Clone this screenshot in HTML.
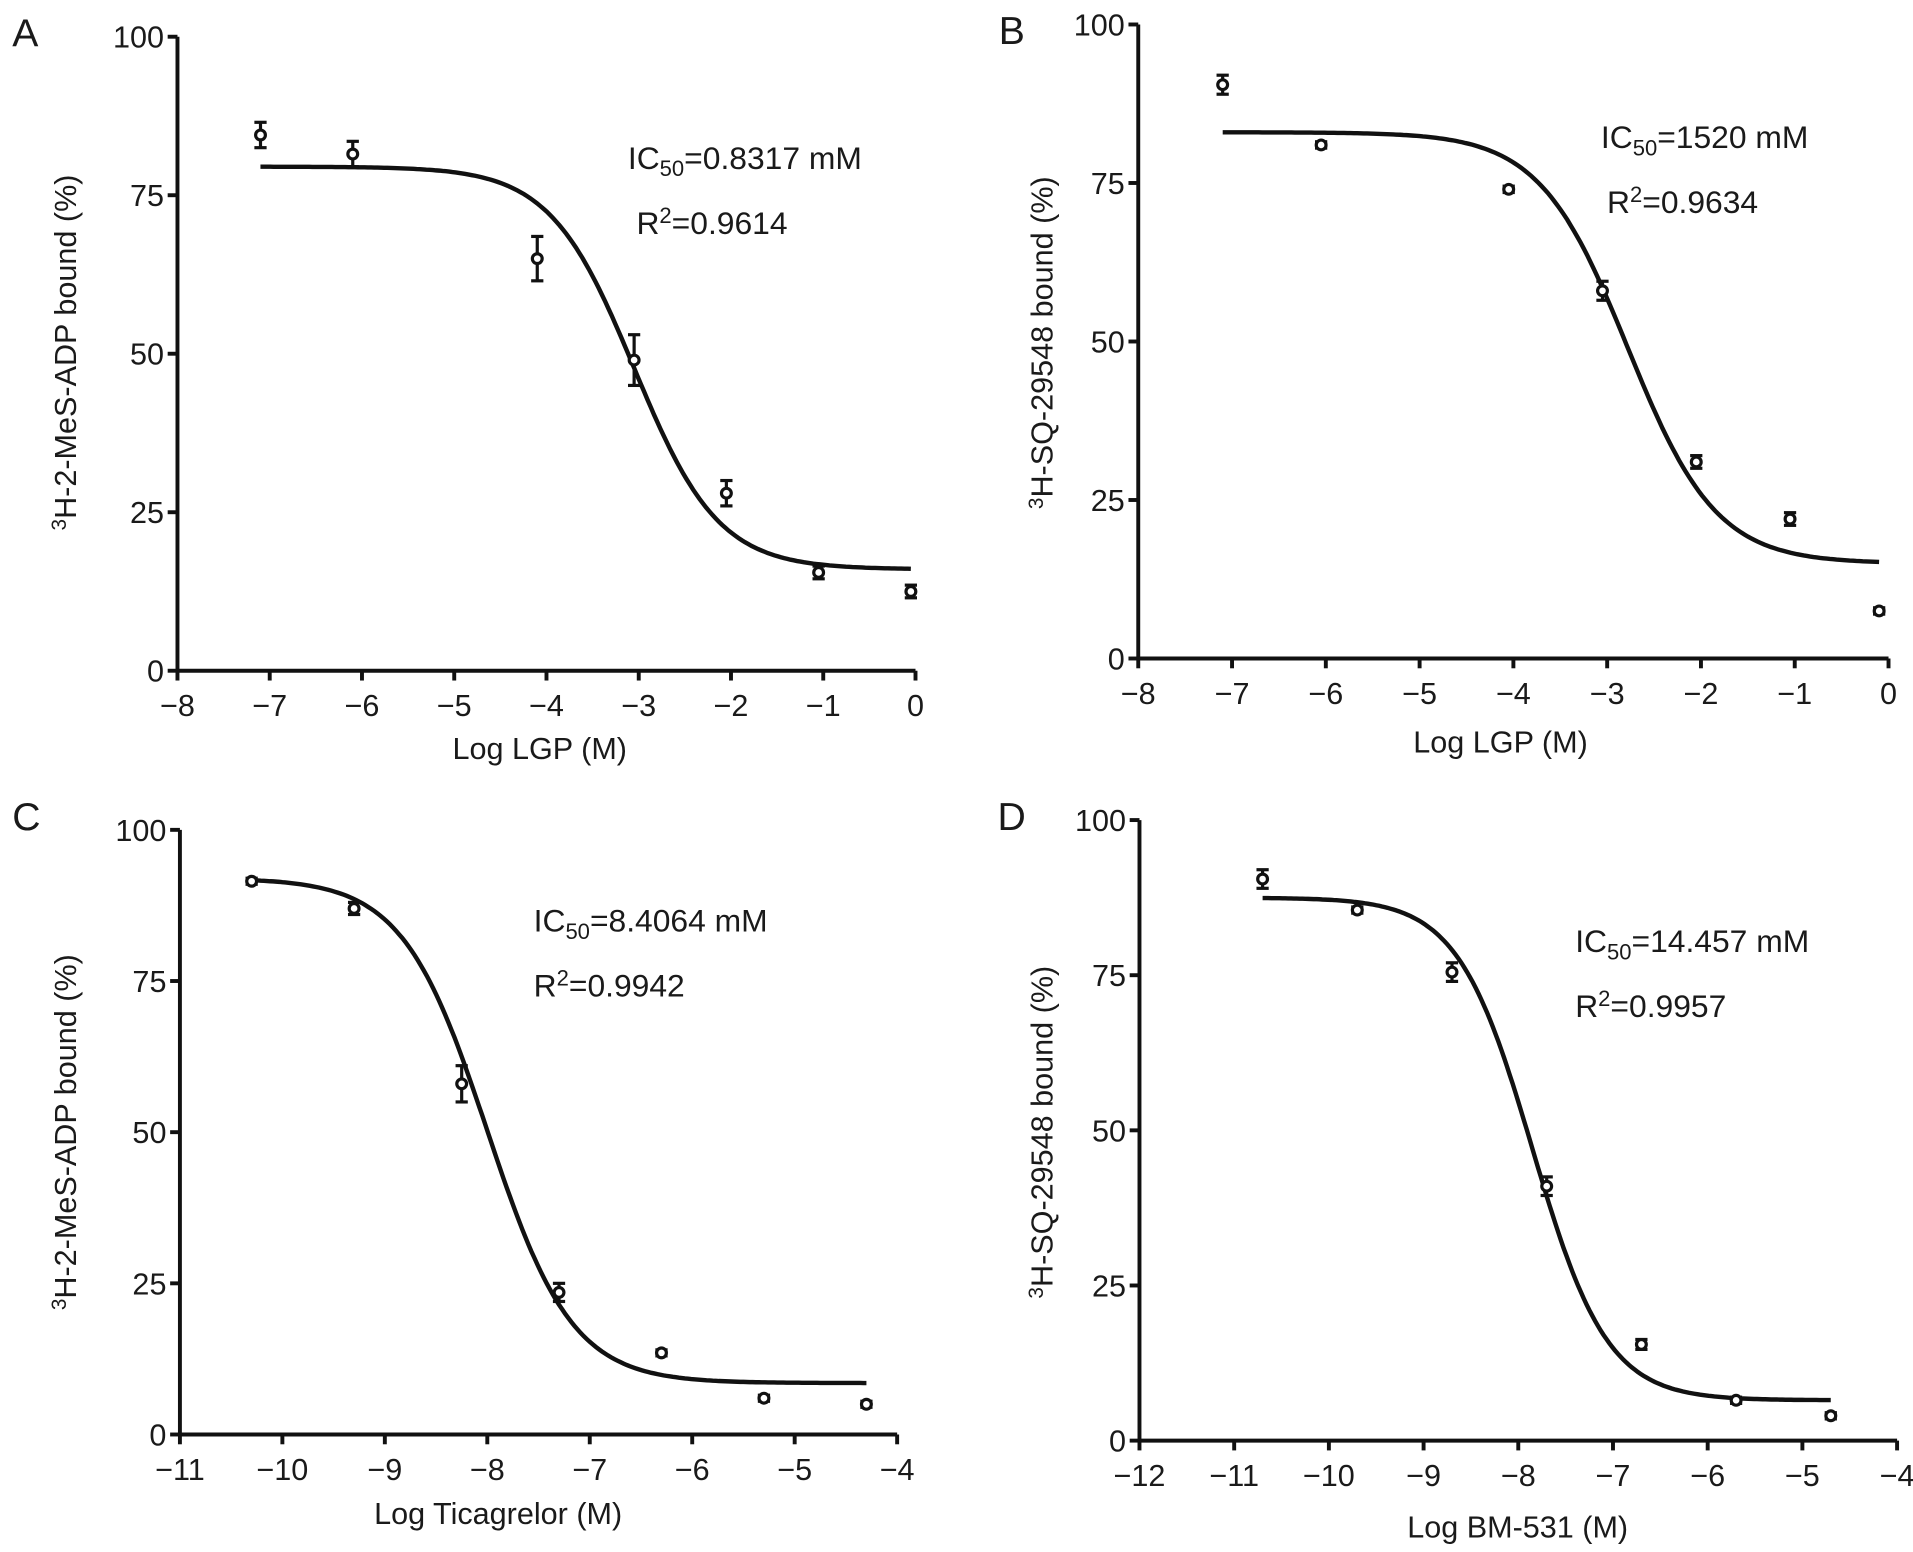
<!DOCTYPE html>
<html><head><meta charset="utf-8"><style>
html,body{margin:0;padding:0;background:#fff;}
svg{display:block;}
text{font-family:"Liberation Sans",sans-serif;fill:#1a1a1a;}
</style></head><body>
<svg id="fig" width="1913" height="1552" viewBox="0 0 1563 1268" preserveAspectRatio="none" xmlns="http://www.w3.org/2000/svg"></svg>
<script>
// Panel A
const aX=[-7.1,-6.1,-4.1,-3.05,-2.05,-1.05,-0.05];
const aY=[84.5,81.5,65,49,28,15.5,12.5];
const aE=[2,2,3.5,4,2,1,1];
const aFit=[79.5,16,-3.05,0.95];
// Panel B
const bX=[-7.1,-6.05,-4.05,-3.05,-2.05,-1.05,-0.1];
const bY=[90.5,81,74,58,31,22,7.5];
const bE=[1.5,0.5,0.5,1.5,1,1,0.5];
const bFit=[83,15,-2.78,0.92];
// Panel C
const cX=[-10.3,-9.3,-8.25,-7.3,-6.3,-5.3,-4.3];
const cY=[91.5,87,58,23.5,13.5,6,5];
const cE=[0.5,1,3,1.5,0.5,0.5,0.5];
const cFit=[92,8.5,-8.0,1.05];
// Panel D
const dX=[-10.7,-9.7,-8.7,-7.7,-6.7,-5.7,-4.7];
const dY=[90.5,85.5,75.5,41,15.5,6.5,4];
const dE=[1.5,0.5,1.5,1.5,0.8,0.5,0.5];
const dFit=[87.5,6.5,-7.85,1.1];
const yTicks=[0,25,50,75,100];
const abXTicks=[-8,-7,-6,-5,-4,-3,-2,-1,0];
const cXTicks=[-11,-10,-9,-8,-7,-6,-5,-4];
const dXTicks=[-12,-11,-10,-9,-8,-7,-6,-5,-4];

const NS="http://www.w3.org/2000/svg";
const svg=document.getElementById('fig');
function el(tag,attrs,parent){const e=document.createElementNS(NS,tag);for(const k in attrs)e.setAttribute(k,attrs[k]);(parent||svg).appendChild(e);return e;}
function fmt(v){return v<0?'\u2212'+(-v):String(v);}

function panel(cfg){
  const g=el('g',{});
  
  
  const sx=v=>cfg.x0+(v-cfg.xmin)/(cfg.xmax-cfg.xmin)*(cfg.x1-cfg.x0);
  const sy=v=>cfg.yb-(v/100)*(cfg.yb-cfg.yt);
  const ax=el('g',{stroke:'#111','stroke-width':3.2,fill:'none'},g);
  
  
  el('line',{x1:cfg.x0,y1:cfg.yt,x2:cfg.x0,y2:cfg.yb},ax);
  el('line',{x1:cfg.x0,y1:cfg.yb,x2:cfg.x1,y2:cfg.yb},ax);
  yTicks.forEach(t=>{
    el('line',{x1:cfg.x0-8,y1:sy(t),x2:cfg.x0,y2:sy(t)},ax);
    const tx=el('text',{x:cfg.x0-11,y:sy(t)+9,'text-anchor':'end','font-size':25},g);
    tx.textContent=t;
    
    
  });
  cfg.xt.forEach(t=>{
    el('line',{x1:sx(t),y1:cfg.yb,x2:sx(t),y2:cfg.yb+8},ax);
    const tx=el('text',{x:sx(t),y:cfg.yb+37,'text-anchor':'middle','font-size':25},g);
    tx.textContent=fmt(t);
    
    
  });
  const [top,bot,c,h]=cfg.fit;
  const lo=Math.min(...cfg.xs),hi=Math.max(...cfg.xs);
  let d='';
  for(let i=0;i<=200;i++){const x=lo+(hi-lo)*i/200;const y=bot+(top-bot)/(1+Math.pow(10,(x-c)*h));d+=(i?'L':'M')+sx(x).toFixed(1)+','+sy(y).toFixed(1);}
  const cu=el('path',{d:d,stroke:'#111','stroke-width':3.6,fill:'none'},g);
  
  
  cfg.xs.forEach((x,i)=>{
    const pg=el('g',{stroke:'#111','stroke-width':2.6,fill:'#fff'},g);
    
    
    const px=sx(x),y1=sy(cfg.ys[i]+cfg.es[i]),y2=sy(cfg.ys[i]-cfg.es[i]);
    el('line',{x1:px,y1:y1,x2:px,y2:y2},pg);
    el('line',{x1:px-5,y1:y1,x2:px+5,y2:y1},pg);
    el('line',{x1:px-5,y1:y2,x2:px+5,y2:y2},pg);
    el('circle',{cx:px,cy:sy(cfg.ys[i]),r:4},pg);
  });
  const L=el('text',{x:cfg.lx,y:cfg.ly,'font-size':32},g);L.textContent=cfg.id;
  
  const ic=el('text',{x:cfg.ix,y:cfg.iy,'font-size':26},g);
  ic.innerHTML='IC<tspan font-size="18" dy="6">50</tspan><tspan dy="-6">='+cfg.ic+'</tspan>';
  
  const r2=el('text',{x:cfg.ix+(cfg.rdx||0),y:cfg.iy+53,'font-size':26},g);
  r2.innerHTML='R<tspan font-size="18" dy="-9">2</tspan><tspan dy="9">='+cfg.r2+'</tspan>';
  
  const xt=el('text',{x:cfg.xtx,y:cfg.xty,'text-anchor':'middle','font-size':25},g);xt.textContent=cfg.xtitle;
  
  const yt=el('text',{x:0,y:0,'text-anchor':'middle','font-size':25,transform:'translate('+cfg.ytx+','+cfg.yty+') rotate(-90)'},g);
  yt.innerHTML='<tspan font-size="17" dy="-8">3</tspan><tspan dy="8">'+cfg.ytitle+'</tspan>';
  
}
panel({id:'A',x0:145,x1:748,xmin:-8,xmax:0,yt:30,yb:548,xt:abXTicks,xs:aX,ys:aY,es:aE,fit:aFit,lx:10,ly:38,ix:513,iy:138,rdx:7,ic:'0.8317 mM',r2:'0.9614',xtx:441,xty:620,xtitle:'Log LGP (M)',ytx:62,yty:288,ytitle:'H-2-MeS-ADP bound (%)'});
panel({id:'B',x0:930,x1:1543,xmin:-8,xmax:0,yt:20,yb:538,xt:abXTicks,xs:bX,ys:bY,es:bE,fit:bFit,lx:816,ly:36,ix:1308,iy:121,rdx:5,ic:'1520 mM',r2:'0.9634',xtx:1226,xty:615,xtitle:'Log LGP (M)',ytx:860,yty:280,ytitle:'H-SQ-29548 bound (%)'});
panel({id:'C',x0:147,x1:733,xmin:-11,xmax:-4,yt:678,yb:1172,xt:cXTicks,xs:cX,ys:cY,es:cE,fit:cFit,lx:10,ly:678,ix:436,iy:761,ic:'8.4064 mM',r2:'0.9942',xtx:407,xty:1245,xtitle:'Log Ticagrelor (M)',ytx:62,yty:925,ytitle:'H-2-MeS-ADP bound (%)'});
panel({id:'D',x0:931,x1:1550,xmin:-12,xmax:-4,yt:670,yb:1177,xt:dXTicks,xs:dX,ys:dY,es:dE,fit:dFit,lx:815,ly:678,ix:1287,iy:778,ic:'14.457 mM',r2:'0.9957',xtx:1240,xty:1256,xtitle:'Log BM-531 (M)',ytx:860,yty:925,ytitle:'H-SQ-29548 bound (%)'});
</script>
</body></html>
